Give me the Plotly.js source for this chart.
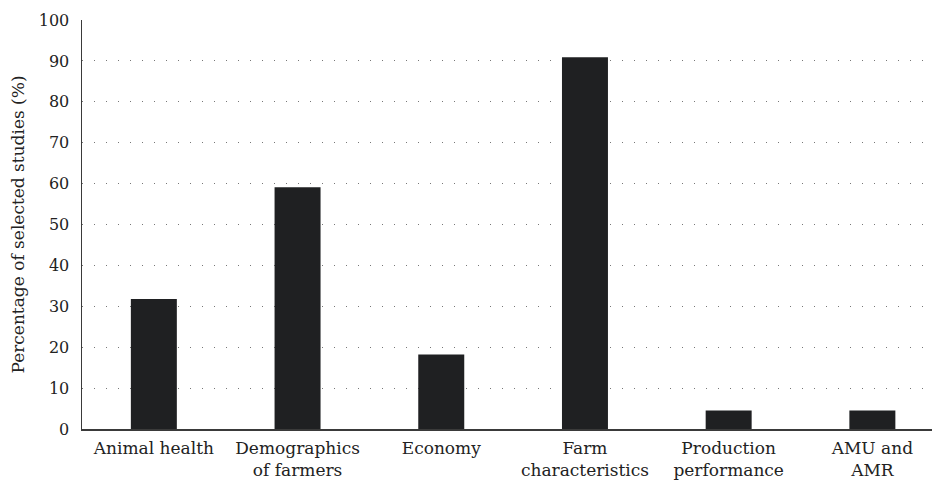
<!DOCTYPE html>
<html>
<head>
<meta charset="utf-8">
<script src="https://cdn.plot.ly/plotly-3.0.1.min.js"></script>
<style>html,body{margin:0;padding:0;background:#fff;}#chart{width:932px;height:481px;}</style>
</head>
<body>
<div id="chart"></div>
<script>
const categories = ["Animal health", "Demographics<br>of farmers", "Economy", "Farm<br>characteristics", "Production<br>performance", "AMU and<br>AMR"];
const percentages = [31.8, 59.1, 18.2, 90.9, 4.5, 4.5];
const yTickValues = [0, 10, 20, 30, 40, 50, 60, 70, 80, 90, 100];

const fontFamily = "DejaVu Serif";

Plotly.newPlot("chart", [{
  type: "bar",
  x: categories,
  y: percentages,
  width: 0.32,
  marker: {color: "#1f2022", line: {width: 0}},
  hoverinfo: "skip"
}], {
  width: 932,
  height: 481,
  margin: {l: 82, r: 0, t: 20, b: 52, pad: 0},
  paper_bgcolor: "#fff",
  plot_bgcolor: "#fff",
  showlegend: false,
  font: {family: fontFamily, size: 17, color: "#222"},
  xaxis: {
    type: "category",
    range: [-0.5, 5.415],
    showgrid: false,
    showline: true,
    linecolor: "#3a3a3a",
    linewidth: 1.5,
    ticks: "",
    ticklabelstandoff: 3,
    tickfont: {family: fontFamily, size: 17, color: "#222"},
    fixedrange: true
  },
  yaxis: {
    range: [0, 100],
    tickvals: yTickValues,
    ticktext: yTickValues.map(String),
    showline: true,
    linecolor: "#3a3a3a",
    linewidth: 1.5,
    ticks: "",
    ticklabelstandoff: 8,
    showgrid: true,
    gridcolor: "#777",
    gridwidth: 1,
    griddash: "1px,11px",
    zeroline: false,
    tickfont: {family: fontFamily, size: 16, color: "#222"},
    title: {text: "Percentage of selected studies (%)", font: {family: fontFamily, size: 17, color: "#222"}, standoff: 10},
    fixedrange: true
  }
}, {displayModeBar: false, staticPlot: true});
</script>
</body>
</html>
